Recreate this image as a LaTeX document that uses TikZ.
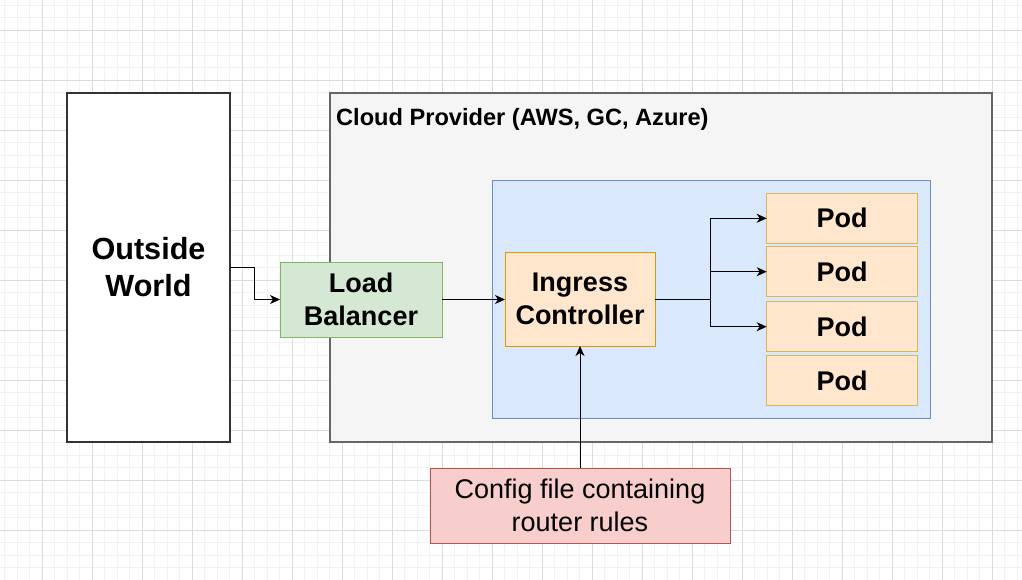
\documentclass[tikz,border=0pt]{standalone}
\usepackage{fontspec}
\setmainfont{Liberation Sans}
\usetikzlibrary{arrows.meta}

\definecolor{gridminor}{HTML}{F2F2F2}
\definecolor{gridmajor}{HTML}{DCDCDC}
\definecolor{cloudfill}{HTML}{F5F5F5}
\definecolor{cloudline}{HTML}{666666}
\definecolor{bluefill}{HTML}{DAE8FC}
\definecolor{blueline}{HTML}{6C8EBF}
\definecolor{greenfill}{HTML}{D5E8D4}
\definecolor{greenline}{HTML}{82B366}
\definecolor{orangefill}{HTML}{FFE6CC}
\definecolor{orangeline}{HTML}{D79B00}
\definecolor{podline}{HTML}{D6B656}
\definecolor{redfill}{HTML}{F8CECC}
\definecolor{redline}{HTML}{B85450}

\tikzset{
  box/.style={draw, rectangle, inner sep=0pt, outer sep=0pt, anchor=north west,
    align=center, line width=1pt},
  bigtext/.style={font=\fontsize{27}{32.4}\selectfont\bfseries},
  arr/.style={draw, line width=1pt, -{Stealth[length=10pt, width=9pt, inset=3pt]}},
  wire/.style={draw, line width=1pt},
}

\begin{document}
\begin{tikzpicture}[x=1pt, y=-1pt]
  \useasboundingbox (0,0) rectangle (1022,580);
  \fill[white] (0,0) rectangle (1022,580);

  % background grid: fine lines every 12.5, strong lines every 50
  \foreach \i in {0,...,82} {
    \draw[gridminor, line width=0.8pt] ({4.8+12.5*\i},0) -- ({4.8+12.5*\i},580);
  }
  \foreach \j in {0,...,46} {
    \draw[gridminor, line width=0.8pt] (0,{5+12.5*\j}) -- (1022,{5+12.5*\j});
  }
  \foreach \i in {0,...,20} {
    \draw[gridmajor, line width=0.8pt] ({42.3+50*\i},0) -- ({42.3+50*\i},580);
  }
  \foreach \j in {0,...,11} {
    \draw[gridmajor, line width=0.8pt] (0,{30+50*\j}) -- (1022,{30+50*\j});
  }

  % outside world
  \node[box, fill=white, draw=black!80, line width=1.3pt,
        minimum width=163pt, minimum height=349pt,
        font=\fontsize{30.6}{37}\selectfont\bfseries] (ow) at (67,93) {Outside\\World};

  % cloud provider frame
  \node[box, fill=cloudfill, draw=cloudline, line width=1.3pt,
        minimum width=662pt, minimum height=349pt] (cloud) at (330,93) {};
  \node[anchor=base west, inner sep=0pt, font=\fontsize{23.6}{28}\selectfont\bfseries]
        (cloudlbl) at (336,126) {Cloud Provider (AWS, GC, Azure)};

  % cluster area
  \node[box, fill=bluefill, draw=blueline,
        minimum width=438pt, minimum height=237pt] (cluster) at (492,181) {};

  % load balancer
  \node[box, fill=greenfill, draw=greenline, bigtext,
        minimum width=162pt, minimum height=75pt] (lb) at (280,262) {Load\\Balancer};

  % ingress controller
  \node[box, fill=orangefill, draw=orangeline, bigtext,
        minimum width=150pt, minimum height=94pt] (ic) at (505,252) {Ingress\\Controller};

  % pods
  \node[box, fill=orangefill, draw=podline, bigtext,
        minimum width=150.6pt, minimum height=50pt] (pod1) at (766.7,193.3) {Pod};
  \node[box, fill=orangefill, draw=podline, bigtext,
        minimum width=150.6pt, minimum height=50pt] (pod2) at (766.7,246.7) {Pod};
  \node[box, fill=orangefill, draw=podline, bigtext,
        minimum width=150.6pt, minimum height=50pt] (pod3) at (766.7,301.7) {Pod};
  \node[box, fill=orangefill, draw=podline, bigtext,
        minimum width=150.6pt, minimum height=50pt] (pod4) at (766.7,355.7) {Pod};

  % config file
  \node[box, fill=redfill, draw=redline, font=\fontsize{27}{32.4}\selectfont,
        minimum width=300pt, minimum height=75pt] (cfg) at (430,468) {Config file containing\\router rules};

  % connectors
  \draw[arr] (ow.east) -| ++(24,0) |- (lb.west);
  \draw[arr] (lb.east) -- (lb.east -| ic.west);
  \coordinate (hub) at (710.5,299);
  \draw[wire] (ic.east) -- (hub);
  \draw[arr] (hub) |- (pod1.west);
  \draw[arr] (hub) |- (pod2.west);
  \draw[arr] (hub) |- (pod3.west);
  \draw[arr] (cfg.north) -- (ic.south);
\end{tikzpicture}
\end{document}
